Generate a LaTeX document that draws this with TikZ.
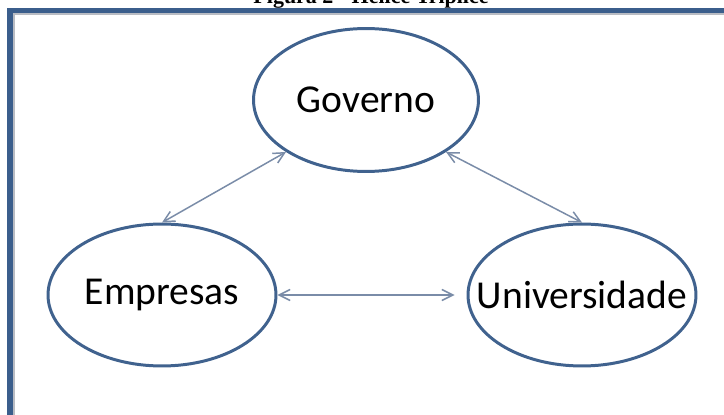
\documentclass[tikz,border=0pt]{standalone}
\usepackage{fontspec}
\setmainfont{Liberation Serif}
\newfontfamily\calibri{Carlito}
\usetikzlibrary{shapes.geometric, arrows.meta}
\definecolor{frameblue}{RGB}{59,94,140}
\definecolor{ringblue}{RGB}{64,98,142}
\definecolor{linkgray}{RGB}{122,140,168}
\definecolor{shadegray}{RGB}{185,188,195}

\begin{document}
\begin{tikzpicture}[x=0.02cm, y=-0.02cm,
	actor/.style={ellipse, draw=ringblue, line width=1.7pt, inner sep=0pt, minimum width=4.56cm, minimum height=2.84cm},
	tag/.style={font=\calibri\fontsize{22.5}{26}\selectfont},
	link/.style={{Straight Barb[length=0.22cm,width=0.22cm]}-{Straight Barb[length=0.22cm,width=0.22cm]}, draw=linkgray, line width=0.85pt}]
	\useasboundingbox (0,0) rectangle (724,415);
	\clip (0,0) rectangle (724,415);
	% frame
	\draw[shadegray, line width=1pt] (14,420) -- (14,14) -- (730,14);
	\draw[frameblue, line width=3pt] (10,420) -- (10,10.5) -- (730,10.5);
	\node[font=\bfseries\fontsize{12.5}{14}\selectfont, anchor=base] (title) at (371,4) {Figura 2 - Hélice Tríplice};
	% the three spheres
	\node[actor, minimum width=4.5cm, minimum height=2.86cm, label={[tag]center:Governo}] (Governo) at (366,100) {};
	\node[actor, label={[tag]center:Empresas}] (Empresas) at (162,295) {};
	\node[actor, label={[tag]center:Universidade}] (Universidade) at (582,295) {};
	% arrows
	\draw[link] (Empresas.north) -- (Governo.213);
	\draw[link] (Governo.327) -- (Universidade.north);
	\draw[link, shorten >=0.24cm] (Empresas.east) -- (Universidade.west);
\end{tikzpicture}
\end{document}
